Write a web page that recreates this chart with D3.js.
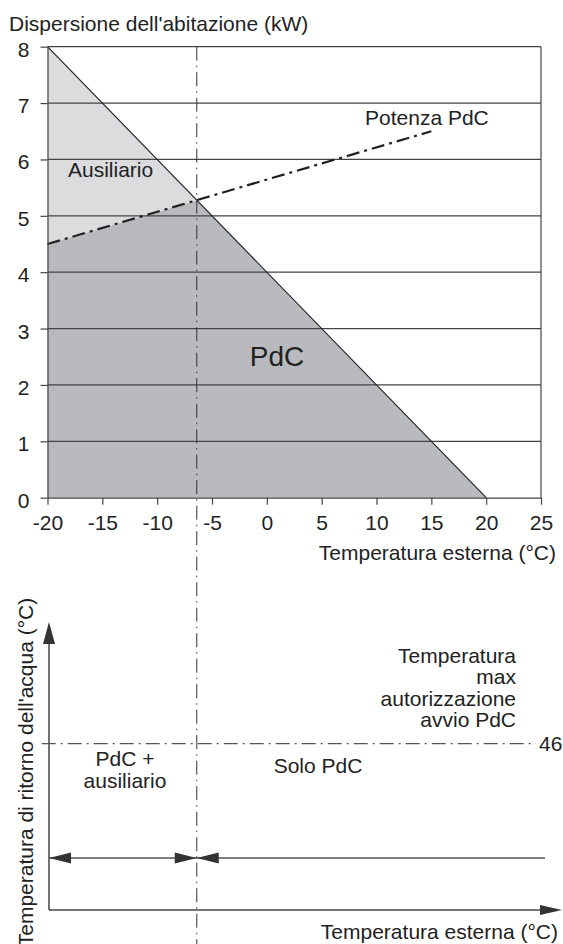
<!DOCTYPE html>
<html>
<head>
<meta charset="utf-8">
<script src="https://cdn.jsdelivr.net/npm/d3@7"></script>
<style>
  body { margin: 0; background: #fff; }
  text { font-family: Arial, "Liberation Sans", sans-serif; fill: #222; }
</style>
</head>
<body>
<div class="container"></div>
<script>
const size = { width: 563, height: 944 };

// dati
const tempTicks = [-20, -15, -10, -5, 0, 5, 10, 15, 20, 25];
const kwTicks = [0, 1, 2, 3, 4, 5, 6, 7, 8];
const dispersione = [{ t: -20, kw: 8 }, { t: 20, kw: 0 }];
const potenzaPdC = [{ t: -20, kw: 4.5 }, { t: 15, kw: 6.5 }];
const tempMaxRitorno = 46;
const infoLines = ["Temperatura", "max", "autorizzazione", "avvio PdC"];

const svg = d3.selectAll(".container")
  .append("svg")
  .attr("width", size.width)
  .attr("height", size.height);

const x = d3.scaleLinear().domain([-20, 25]).range([47.5, 541]);
const y = d3.scaleLinear().domain([0, 8]).range([497.7, 46.7]);

// punto di bivalenza = incrocio delle due rette
const retta = (p) => {
  const m = (p[1].kw - p[0].kw) / (p[1].t - p[0].t);
  return { m: m, q: p[0].kw - m * p[0].t };
};
const r1 = retta(dispersione), r2 = retta(potenzaPdC);
const tBiv = (r2.q - r1.q) / (r1.m - r2.m);
const kwBiv = r1.m * tBiv + r1.q;

const g = svg.append("g");

// aree
const area = (pts) => "M" + pts.map(p => [x(p[0]), y(p[1])].join(",")).join("L") + "Z";
g.append("path")
  .attr("d", area([[-20, 0], [-20, potenzaPdC[0].kw], [tBiv, kwBiv], [dispersione[1].t, 0]]))
  .attr("fill", "#b9babd");
g.append("path")
  .attr("d", area([[-20, potenzaPdC[0].kw], [-20, dispersione[0].kw], [tBiv, kwBiv]]))
  .attr("fill", "#dcdcde");

// griglia
g.selectAll(".grid")
  .data(kwTicks.filter(d => d > 0))
  .enter()
  .append("line")
  .attr("x1", x(-20)).attr("x2", x(25))
  .attr("y1", d => y(d)).attr("y2", d => y(d))
  .attr("stroke", "#444").attr("stroke-width", 1.2);

g.append("line")
  .attr("x1", x(25)).attr("x2", x(25))
  .attr("y1", y(0)).attr("y2", y(8))
  .attr("stroke", "#444").attr("stroke-width", 1.2);

const linea = d3.line().x(d => x(d.t)).y(d => y(d.kw));

g.append("path")
  .attr("d", linea(dispersione))
  .attr("fill", "none").attr("stroke", "#222").attr("stroke-width", 1.2);

g.append("path")
  .attr("d", linea(potenzaPdC))
  .attr("fill", "none").attr("stroke", "#222").attr("stroke-width", 2.2)
  .attr("stroke-dasharray", "13,5,3,5");

// assi
const axisL = g.append("g")
  .attr("transform", `translate(${x(-20)},0)`)
  .call(d3.axisLeft(y).tickValues(kwTicks).tickSize(7).tickSizeOuter(0).tickPadding(11).tickFormat(d => String(d)));
const axisB = g.append("g")
  .attr("transform", `translate(0,${y(0)})`)
  .call(d3.axisBottom(x).tickValues(tempTicks).tickSize(7).tickSizeOuter(0).tickPadding(10).tickFormat(d => String(d)));
[axisL, axisB].forEach(a => {
  a.selectAll("path, line").attr("stroke", "#444").attr("stroke-width", 1.2);
  a.selectAll("text").attr("font-size", 21).attr("fill", "#222")
    .style("font-family", "Arial, 'Liberation Sans', sans-serif");
});
axisL.selectAll("text").attr("dy", "0.45em");

svg.append("text").attr("x", 9).attr("y", 31).attr("font-size", 21)
  .text("Dispersione dell'abitazione (kW)");
svg.append("text").attr("x", 556).attr("y", 560).attr("font-size", 21)
  .attr("text-anchor", "end").text("Temperatura esterna (°C)");
svg.append("text").attr("x", 68).attr("y", 177).attr("font-size", 21).text("Ausiliario");
svg.append("text").attr("x", 365).attr("y", 125).attr("font-size", 21).text("Potenza PdC");
svg.append("text").attr("x", 277).attr("y", 366).attr("font-size", 28)
  .attr("text-anchor", "middle").text("PdC");

// grafico inferiore (schema)
const yw = d3.scaleLinear().domain([20, 65]).range([910, 622]);
const x0 = 49, xEnd = 562, rowY = 858;
const b = svg.append("g");
const col = "#444";

b.append("line").attr("x1", x0).attr("x2", x0).attr("y1", yw(20)).attr("y2", 640)
  .attr("stroke", col).attr("stroke-width", 1.5);
b.append("path").attr("d", `M${x0},${yw(65)}L${x0 - 6},${yw(65) + 22}L${x0 + 6},${yw(65) + 22}Z`)
  .attr("fill", "#333");
b.append("line").attr("x1", x0).attr("x2", xEnd - 20).attr("y1", yw(20)).attr("y2", yw(20))
  .attr("stroke", col).attr("stroke-width", 1.5);
b.append("path").attr("d", `M${xEnd},${yw(20)}L${xEnd - 22},${yw(20) - 5}L${xEnd - 22},${yw(20) + 5}Z`)
  .attr("fill", "#333");

b.append("line").attr("x1", 41.7).attr("x2", 536)
  .attr("y1", yw(tempMaxRitorno)).attr("y2", yw(tempMaxRitorno))
  .attr("stroke", "#555").attr("stroke-width", 1.3).attr("stroke-dasharray", "14,5,2,5");
b.append("text").attr("x", 539).attr("y", yw(tempMaxRitorno) + 7.5).attr("font-size", 21)
  .text(tempMaxRitorno);

b.append("line").attr("x1", x0).attr("x2", 545).attr("y1", rowY).attr("y2", rowY)
  .attr("stroke", "#555").attr("stroke-width", 1.6);
const freccia = (tip, dir) => `M${tip},${rowY}L${tip + dir * 22},${rowY - 5.5}L${tip + dir * 22},${rowY + 5.5}Z`;
b.selectAll(".arr")
  .data([[x0, 1], [x(tBiv), -1], [x(tBiv), 1]])
  .enter()
  .append("path")
  .attr("d", d => freccia(d[0], d[1]))
  .attr("fill", "#333");

b.selectAll(".info")
  .data(infoLines)
  .enter()
  .append("text")
  .attr("x", 516).attr("y", (d, i) => 663 + i * 21.3)
  .attr("font-size", 21).attr("text-anchor", "end")
  .text(d => d);

b.append("text").attr("x", 125).attr("y", 766).attr("font-size", 21)
  .attr("text-anchor", "middle").text("PdC +");
b.append("text").attr("x", 125).attr("y", 788).attr("font-size", 21)
  .attr("text-anchor", "middle").text("ausiliario");
b.append("text").attr("x", 318).attr("y", 773).attr("font-size", 21)
  .attr("text-anchor", "middle").text("Solo PdC");
b.append("text").attr("x", 558).attr("y", 939).attr("font-size", 21)
  .attr("text-anchor", "end").text("Temperatura esterna (°C)");
b.append("text").attr("transform", "translate(33,772) rotate(-90)").attr("font-size", 21)
  .attr("text-anchor", "middle").text("Temperatura di ritorno dell'acqua (°C)");

// linea verticale di bivalenza
svg.append("line")
  .attr("x1", x(tBiv)).attr("x2", x(tBiv))
  .attr("y1", y(8)).attr("y2", size.height)
  .attr("stroke", "#333").attr("stroke-width", 1)
  .attr("stroke-dasharray", "14,5,1.5,5");
</script>
</body>
</html>
